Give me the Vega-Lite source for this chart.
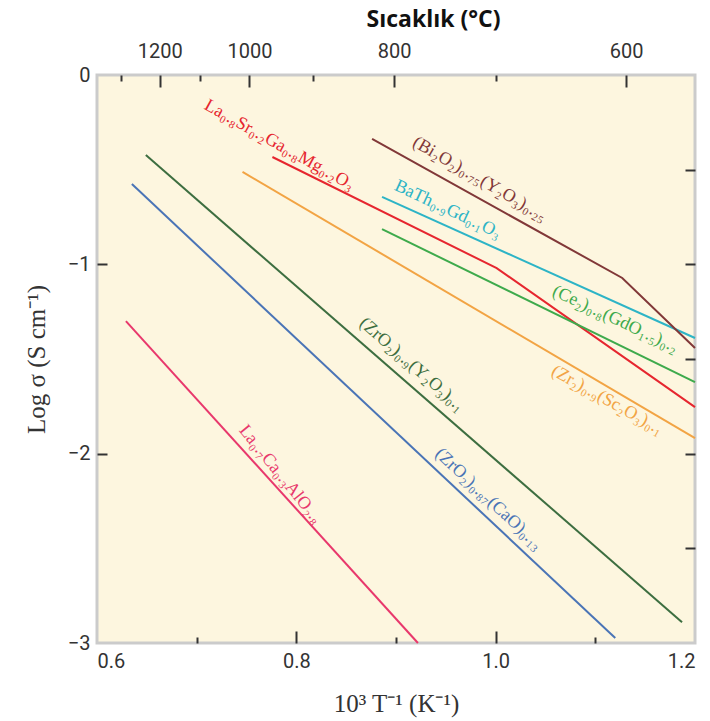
{
  "$schema": "https://vega.github.io/schema/vega-lite/v6.json",
  "width": 598,
  "height": 568,
  "autosize": {"type": "none"},
  "padding": {"left": 97, "top": 75, "right": 15, "bottom": 78},
  "background": "white",
  "config": {
    "view": {"fill": "#fdf6df", "stroke": "#cbcbcb", "strokeWidth": 3},
    "axis": {"grid": false, "domain": false}
  },
  "datasets": {
    "lines": [
      {"series": "LaCa", "i": 0, "x": 0.629, "y": -1.30},
      {"series": "LaCa", "i": 1, "x": 0.922, "y": -3.0},
      {"series": "ZrCa", "i": 0, "x": 0.635, "y": -0.576},
      {"series": "ZrCa", "i": 1, "x": 1.120, "y": -2.974},
      {"series": "ZrY", "i": 0, "x": 0.649, "y": -0.423},
      {"series": "ZrY", "i": 1, "x": 1.187, "y": -2.89},
      {"series": "ZrSc", "i": 0, "x": 0.746, "y": -0.512},
      {"series": "ZrSc", "i": 1, "x": 1.2, "y": -1.918},
      {"series": "LSGM", "i": 0, "x": 0.776, "y": -0.433},
      {"series": "LSGM", "i": 1, "x": 1.001, "y": -1.02},
      {"series": "LSGM", "i": 2, "x": 1.2, "y": -1.754},
      {"series": "CeGd", "i": 0, "x": 0.886, "y": -0.814},
      {"series": "CeGd", "i": 1, "x": 1.2, "y": -1.622},
      {"series": "BaTh", "i": 0, "x": 0.886, "y": -0.644},
      {"series": "BaTh", "i": 1, "x": 1.2, "y": -1.389},
      {"series": "BiY", "i": 0, "x": 0.876, "y": -0.338},
      {"series": "BiY", "i": 1, "x": 1.127, "y": -1.072},
      {"series": "BiY", "i": 2, "x": 1.2, "y": -1.442}
    ],
    "labels": [
      {"series": "LSGM", "label": "La₀.₈Sr₀.₂Ga₀.₈Mg₀.₂O₃", "x": 0.783, "y": -0.37, "g": "a29"},
      {"series": "ZrSc", "label": "(Zr₂)₀.₉(Sc₂O₃)₀.₁", "x": 1.112, "y": -1.717, "g": "a29"},
      {"series": "BiY", "label": "(Bi₂O₂)₀.₇₅(Y₂O₃)₀.₂₅", "x": 0.984, "y": -0.55, "g": "a30"},
      {"series": "BaTh", "label": "BaTh₀.₉Gd₀.₁O₃", "x": 0.952, "y": -0.71, "g": "a25"},
      {"series": "CeGd", "label": "(Ce₂)₀.₈(GdO₁.₅)₀.₂", "x": 1.12, "y": -1.29, "g": "a25"},
      {"series": "ZrY", "label": "(ZrO₂)₀.₉(Y₂O₃)₀.₁", "x": 0.916, "y": -1.53, "g": "a41"},
      {"series": "ZrCa", "label": "(ZrO₂)₀.₈₇(CaO)₀.₁₃", "x": 0.993, "y": -2.24, "g": "a43"},
      {"series": "LaCa", "label": "La₀.₇Ca₀.₃AlO₂.₈", "x": 0.784, "y": -2.11, "g": "a51"}
    ]
  },
  "layer": [
    {
      "data": {"name": "lines"},
      "mark": {"type": "line", "strokeWidth": 2},
      "encoding": {
        "x": {
          "field": "x", "type": "quantitative",
          "scale": {"domain": [0.6, 1.2], "nice": false, "zero": false},
          "axis": {
            "orient": "bottom",
            "values": [0.6, 0.7, 0.8, 0.9, 1.0, 1.1, 1.2],
            "labelExpr": "(round(datum.value*10)%2==0) ? format(datum.value,'.1f') : ''",
            "tickSize": {"condition": {"test": "round(datum.value*10)%2==0", "value": -12}, "value": -6},
            "tickOpacity": {"condition": {"test": "datum.value < 0.65 || datum.value > 1.15", "value": 0}, "value": 1},
            "tickColor": "#333", "tickWidth": 2,
            "labelFont": "Roboto", "labelFontSize": 20, "labelColor": "#333", "labelPadding": 20,
            "title": "10³ T⁻¹ (K⁻¹)", "titleFont": "Liberation Serif", "titleFontSize": 25,
            "titleFontWeight": "normal", "titleColor": "#333", "titlePadding": 20
          }
        },
        "y": {
          "field": "y", "type": "quantitative",
          "scale": {"domain": [-3, 0], "nice": false, "zero": false},
          "axis": {
            "orient": "left",
            "values": [0, -1, -2, -3],
            "format": "d",
            "tickSize": -10,
            "tickOpacity": {"condition": {"test": "datum.value == 0 || datum.value == -3", "value": 0}, "value": 1},
            "tickColor": "#333", "tickWidth": 2,
            "labelFont": "Roboto", "labelFontSize": 20, "labelColor": "#333", "labelPadding": 17,
            "title": "Log σ (S cm⁻¹)", "titleFont": "Liberation Serif", "titleFontSize": 25,
            "titleFontWeight": "normal", "titleColor": "#333", "titlePadding": 18
          }
        },
        "color": {
          "field": "series", "type": "nominal",
          "scale": {
            "domain": ["LaCa", "ZrCa", "ZrY", "ZrSc", "LSGM", "CeGd", "BaTh", "BiY"],
            "range": ["#e8386c", "#4a74b6", "#3d6e40", "#f2a444", "#e6262f", "#3eaa4c", "#2db4c6", "#813838"]
          },
          "legend": null
        },
        "order": {"field": "i", "type": "quantitative"}
      }
    },
    {
      "data": {"name": "labels"},
      "transform": [{"filter": "datum.g == 'a29'"}],
      "mark": {"type": "text", "angle": 29, "font": "Liberation Serif", "fontSize": 18, "align": "center", "baseline": "middle"},
      "encoding": {
        "x": {
          "field": "x", "type": "quantitative",
          "axis": {
            "orient": "top",
            "values": [0.624, 0.663, 0.703, 0.753, 0.817, 0.898, 1.0, 1.131],
            "labelExpr": "datum.value == 0.663 ? '1200' : datum.value == 0.753 ? '1000' : datum.value == 0.898 ? '800' : datum.value == 1.131 ? '600' : ''",
            "tickSize": {"condition": {"test": "datum.value == 0.663 || datum.value == 0.753 || datum.value == 0.898 || datum.value == 1.131", "value": -12}, "value": -6},
            "tickColor": "#333", "tickWidth": 2,
            "labelFont": "Roboto", "labelFontSize": 20, "labelColor": "#333", "labelPadding": 26,
            "title": "Sıcaklık (°C)", "titleFont": "Open Sans", "titleFontSize": 23,
            "titleFontWeight": "bold", "titleColor": "#111", "titlePadding": 10, "titleX": 336
          }
        },
        "y": {
          "field": "y", "type": "quantitative",
          "axis": {
            "orient": "right",
            "values": [-0.5, -1, -1.5, -2, -2.5],
            "labels": false,
            "tickSize": -10, "tickColor": "#333", "tickWidth": 2,
            "title": null
          }
        },
        "text": {"field": "label"},
        "color": {"field": "series", "type": "nominal", "legend": null}
      }
    },
    {
      "data": {"name": "labels"},
      "transform": [{"filter": "datum.g == 'a30'"}],
      "mark": {"type": "text", "angle": 30, "font": "Liberation Serif", "fontSize": 18, "align": "center", "baseline": "middle"},
      "encoding": {
        "x": {"field": "x", "type": "quantitative", "axis": null},
        "y": {"field": "y", "type": "quantitative", "axis": null},
        "text": {"field": "label"},
        "color": {"field": "series", "type": "nominal", "legend": null}
      }
    },
    {
      "data": {"name": "labels"},
      "transform": [{"filter": "datum.g == 'a25'"}],
      "mark": {"type": "text", "angle": 25, "font": "Liberation Serif", "fontSize": 18, "align": "center", "baseline": "middle"},
      "encoding": {
        "x": {"field": "x", "type": "quantitative", "axis": null},
        "y": {"field": "y", "type": "quantitative", "axis": null},
        "text": {"field": "label"},
        "color": {"field": "series", "type": "nominal", "legend": null}
      }
    },
    {
      "data": {"name": "labels"},
      "transform": [{"filter": "datum.g == 'a41'"}],
      "mark": {"type": "text", "angle": 41, "font": "Liberation Serif", "fontSize": 18, "align": "center", "baseline": "middle"},
      "encoding": {
        "x": {"field": "x", "type": "quantitative", "axis": null},
        "y": {"field": "y", "type": "quantitative", "axis": null},
        "text": {"field": "label"},
        "color": {"field": "series", "type": "nominal", "legend": null}
      }
    },
    {
      "data": {"name": "labels"},
      "transform": [{"filter": "datum.g == 'a43'"}],
      "mark": {"type": "text", "angle": 43, "font": "Liberation Serif", "fontSize": 18, "align": "center", "baseline": "middle"},
      "encoding": {
        "x": {"field": "x", "type": "quantitative", "axis": null},
        "y": {"field": "y", "type": "quantitative", "axis": null},
        "text": {"field": "label"},
        "color": {"field": "series", "type": "nominal", "legend": null}
      }
    },
    {
      "data": {"name": "labels"},
      "transform": [{"filter": "datum.g == 'a51'"}],
      "mark": {"type": "text", "angle": 51, "font": "Liberation Serif", "fontSize": 18, "align": "center", "baseline": "middle"},
      "encoding": {
        "x": {"field": "x", "type": "quantitative", "axis": null},
        "y": {"field": "y", "type": "quantitative", "axis": null},
        "text": {"field": "label"},
        "color": {"field": "series", "type": "nominal", "legend": null}
      }
    }
  ],
  "resolve": {"axis": {"x": "independent", "y": "independent"}}
}
